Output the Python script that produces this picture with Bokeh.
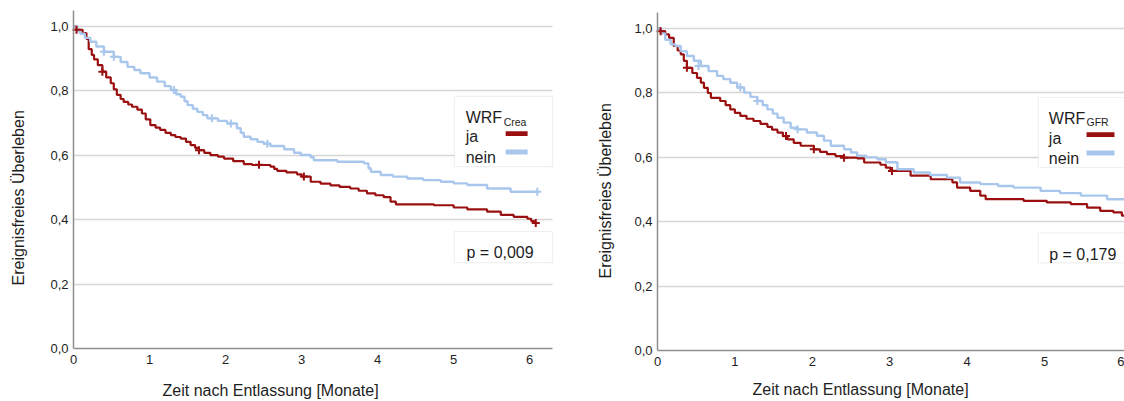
import math
from bokeh.plotting import figure
from bokeh.layouts import row
from bokeh.models import (Range1d, FixedTicker, CustomJSTickFormatter,
                          BoxAnnotation, Label)
from bokeh.embed import file_html
from bokeh.resources import INLINE

# ---------------- data ----------------
x_ticks = [0, 1, 2, 3, 4, 5, 6]
y_ticks = [0.0, 0.2, 0.4, 0.6, 0.8, 1.0]
x_title = "Zeit nach Entlassung [Monate]"
y_title = "Ereignisfreies Überleben"
groups = ["ja", "nein"]

# Panel 1: WRF Crea
crea_ja_t = [0.00, 0.04, 0.12, 0.17, 0.20, 0.24, 0.27, 0.32, 0.38, 0.43, 0.49, 0.53,
             0.57, 0.62, 0.66, 0.72, 0.77, 0.84, 0.90, 0.95, 1.01, 1.08, 1.14, 1.21,
             1.28, 1.34, 1.41, 1.48, 1.54, 1.60, 1.65, 1.72, 1.80, 1.90, 1.98, 2.10,
             2.24, 2.35, 2.59, 2.64, 2.68, 2.80, 2.94, 3.00, 3.12, 3.25, 3.38, 3.50,
             3.64, 3.75, 3.86, 3.97, 4.08, 4.17, 4.24, 4.74, 5.00, 5.18, 5.44, 5.62,
             5.79, 5.97, 6.02, 6.06, 6.08]
crea_ja_s = [1.000, 0.990, 0.980, 0.962, 0.930, 0.912, 0.898, 0.880, 0.860, 0.842, 0.824, 0.805,
             0.788, 0.775, 0.766, 0.758, 0.751, 0.742, 0.730, 0.712, 0.694, 0.686, 0.679, 0.670,
             0.663, 0.657, 0.652, 0.642, 0.632, 0.623, 0.616, 0.608, 0.601, 0.596, 0.590, 0.582,
             0.573, 0.570, 0.565, 0.558, 0.552, 0.547, 0.541, 0.534, 0.518, 0.512, 0.507, 0.502,
             0.497, 0.490, 0.482, 0.476, 0.470, 0.456, 0.448, 0.445, 0.438, 0.432, 0.425, 0.415,
             0.409, 0.403, 0.396, 0.390, 0.390]
crea_nein_t = [0.00, 0.05, 0.09, 0.15, 0.22, 0.30, 0.40, 0.53, 0.62, 0.71, 0.80, 0.88,
               1.00, 1.10, 1.20, 1.28, 1.35, 1.41, 1.46, 1.50, 1.57, 1.63, 1.70, 1.76,
               1.90, 2.02, 2.15, 2.20, 2.24, 2.33, 2.42, 2.50, 2.59, 2.77, 2.90, 2.99,
               3.12, 3.16, 3.47, 3.82, 3.88, 3.91, 4.04, 4.20, 4.39, 4.60, 4.83, 5.00,
               5.18, 5.44, 5.75, 6.10]
crea_nein_s = [1.000, 0.985, 0.978, 0.965, 0.953, 0.938, 0.922, 0.906, 0.890, 0.875, 0.865, 0.855,
               0.842, 0.829, 0.815, 0.803, 0.790, 0.782, 0.768, 0.756, 0.745, 0.735, 0.725, 0.715,
               0.707, 0.699, 0.684, 0.670, 0.658, 0.650, 0.642, 0.636, 0.629, 0.619, 0.608, 0.601,
               0.594, 0.585, 0.580, 0.575, 0.560, 0.549, 0.539, 0.534, 0.528, 0.523, 0.518, 0.513,
               0.508, 0.497, 0.487, 0.487]
crea_ja_cens_t = [0.04, 0.38, 1.65, 2.44, 3.03, 6.08]
crea_ja_cens_s = [0.990, 0.860, 0.616, 0.571, 0.534, 0.390]
crea_nein_cens_t = [0.40, 0.53, 1.32, 1.82, 2.07, 2.55, 6.10]
crea_nein_cens_s = [0.922, 0.906, 0.803, 0.715, 0.699, 0.636, 0.487]
crea_p = "p = 0,009"

# Panel 2: WRF GFR
gfr_ja_t = [0.00, 0.04, 0.10, 0.15, 0.21, 0.26, 0.30, 0.34, 0.38, 0.45, 0.51, 0.56,
            0.60, 0.65, 0.69, 0.81, 0.88, 0.94, 1.00, 1.07, 1.15, 1.24, 1.33, 1.42,
            1.48, 1.55, 1.62, 1.68, 1.76, 1.85, 2.02, 2.10, 2.19, 2.30, 2.41, 2.58,
            2.67, 2.88, 2.95, 3.01, 3.27, 3.53, 3.81, 3.87, 4.04, 4.17, 4.24, 4.73,
            5.03, 5.34, 5.55, 5.72, 5.89, 6.00, 6.10]
gfr_ja_s = [1.000, 0.992, 0.982, 0.971, 0.946, 0.932, 0.920, 0.900, 0.878, 0.862, 0.847, 0.832,
            0.816, 0.800, 0.785, 0.775, 0.762, 0.749, 0.738, 0.729, 0.720, 0.713, 0.704, 0.695,
            0.686, 0.677, 0.666, 0.656, 0.645, 0.636, 0.625, 0.617, 0.610, 0.604, 0.599, 0.597,
            0.584, 0.577, 0.568, 0.558, 0.543, 0.532, 0.522, 0.506, 0.496, 0.481, 0.470, 0.465,
            0.460, 0.455, 0.444, 0.434, 0.429, 0.419, 0.419]
gfr_nein_t = [0.00, 0.05, 0.10, 0.17, 0.23, 0.30, 0.38, 0.47, 0.56, 0.66, 0.77, 0.85,
              0.94, 1.03, 1.12, 1.20, 1.29, 1.36, 1.42, 1.49, 1.55, 1.63, 1.72, 1.81,
              1.93, 2.06, 2.15, 2.24, 2.41, 2.50, 2.58, 2.70, 2.84, 2.95, 3.10, 3.31,
              3.52, 3.74, 3.91, 4.17, 4.40, 4.60, 4.95, 5.20, 5.47, 5.81, 6.10]
gfr_nein_s = [1.000, 0.985, 0.965, 0.951, 0.946, 0.930, 0.915, 0.900, 0.884, 0.868, 0.853, 0.843,
              0.832, 0.817, 0.801, 0.788, 0.775, 0.762, 0.749, 0.736, 0.723, 0.708, 0.692, 0.687,
              0.677, 0.667, 0.652, 0.636, 0.625, 0.615, 0.605, 0.600, 0.594, 0.585, 0.563, 0.553,
              0.545, 0.537, 0.522, 0.517, 0.511, 0.506, 0.496, 0.489, 0.481, 0.470, 0.470]
gfr_ja_cens_t = [0.04, 0.38, 1.66, 2.02, 2.41, 3.03]
gfr_ja_cens_s = [0.992, 0.878, 0.666, 0.625, 0.599, 0.558]
gfr_nein_cens_t = [0.53, 1.07, 1.29, 1.81]
gfr_nein_cens_s = [0.884, 0.817, 0.775, 0.687]
gfr_p = "p = 0,179"

# ---------------- styling ----------------
FONT = "Liberation Sans"
RED = "#9a1010"
BLUE = "#a9c7ec"
TXT = "#1e1e1e"
AXIS = "#8e8e8e"
GRID = "#d6d6d6"
H = 401
Y_TOP = 1.05


def panel(width, x0_px, top_px, zero_px, px_per_month, x_end,
          ja_t, ja_s, nein_t, nein_s, ja_ct, ja_cs, nein_ct, nein_cs,
          sub, ptext, lay):
    # the frame fills the whole canvas; axes are pinned at 0 so titles can sit freely
    px_per_unit = (zero_px - top_px) / Y_TOP
    xr = Range1d(-x0_px / px_per_month, (width - x0_px) / px_per_month)
    yr = Range1d(-(H - zero_px) / px_per_unit, Y_TOP + top_px / px_per_unit)
    p = figure(width=width, height=H, x_range=xr, y_range=yr,
               output_backend="svg", toolbar_location=None,
               min_border_left=0, min_border_right=0,
               min_border_top=0, min_border_bottom=0)
    p.outline_line_color = None
    p.background_fill_color = "white"
    p.border_fill_color = "white"
    p.xgrid.visible = False

    grid = p.ygrid[0]
    grid_ticks = y_ticks[1:]
    if "cross_bounds" in grid.properties():
        grid.ticker = FixedTicker(ticks=grid_ticks)
        grid.grid_line_color = GRID
        grid.grid_line_width = 1.5
        grid.cross_bounds = (0, x_end)
    else:
        grid.visible = False
        p.segment(x0=[0] * len(grid_ticks), x1=[x_end] * len(grid_ticks),
                  y0=grid_ticks, y1=grid_ticks, line_color=GRID, line_width=1.5)

    p.xaxis.ticker = FixedTicker(ticks=x_ticks)
    p.yaxis.ticker = FixedTicker(ticks=y_ticks)
    p.yaxis.formatter = CustomJSTickFormatter(code="return tick.toFixed(1).replace('.', ',');")
    p.xaxis.fixed_location = 0
    p.yaxis.fixed_location = 0
    p.xaxis.bounds = (0, x_end)
    p.yaxis.bounds = (0, Y_TOP)
    for ax in (p.xaxis[0], p.yaxis[0]):
        ax.axis_line_color = AXIS
        ax.axis_line_width = 1.5
        ax.major_tick_line_color = None
        ax.minor_tick_line_color = None
        ax.major_tick_out = 0
        ax.major_tick_in = 0
        ax.minor_tick_out = 0
        ax.major_label_text_font = FONT
        ax.major_label_text_font_size = "13px"
        ax.major_label_text_color = TXT
    p.xaxis.major_label_standoff = 6
    p.yaxis.major_label_standoff = 5

    # curves
    p.step(x=ja_t, y=ja_s, mode="after", line_color=RED, line_width=2.2)
    p.step(x=nein_t, y=nein_s, mode="after", line_color=BLUE, line_width=2.4)
    p.scatter(x=nein_ct, y=nein_cs, marker="cross", size=8, line_color=BLUE, line_width=2)
    p.scatter(x=ja_ct, y=ja_cs, marker="cross", size=8, line_color=RED, line_width=2)

    # legend box
    L = lay
    p.add_layout(BoxAnnotation(left=L["bl"], right=L["br"], top=L["lt"], bottom=L["lb"],
                               fill_color="white", fill_alpha=1.0,
                               line_color="#cccccc", line_width=1.2))
    common = dict(text_font=FONT, text_color=TXT, text_baseline="alphabetic", text_align="left")
    p.add_layout(Label(x=L["tx"], y=L["wrf_y"], text="WRF", text_font_size="16px", **common))
    p.add_layout(Label(x=L["sub_x"], y=L["sub_y"], text=sub, text_font_size="10.5px", **common))
    p.add_layout(Label(x=L["tx"], y=L["ja_y"], text=groups[0], text_font_size="16px", **common))
    p.add_layout(Label(x=L["tx"], y=L["nein_y"], text=groups[1], text_font_size="16px", **common))
    p.add_layout(BoxAnnotation(left=L["sw_l"], right=L["sw_r"], top=L["red_t"], bottom=L["red_b"],
                               fill_color=RED, fill_alpha=1.0, line_color=None))
    p.add_layout(BoxAnnotation(left=L["sw_l"], right=L["sw_r"], top=L["blue_t"], bottom=L["blue_b"],
                               fill_color=BLUE, fill_alpha=1.0, line_color=None))
    # p-value box
    p.add_layout(BoxAnnotation(left=L["bl"], right=L["br"], top=L["pt"], bottom=L["pb"],
                               fill_color="white", fill_alpha=1.0,
                               line_color="#cccccc", line_width=1.2))
    p.add_layout(Label(x=L["ptx"], y=L["pty"], text=ptext, text_font_size="16px", **common))

    # axis titles
    p.add_layout(Label(x=L["xt_x"], y=L["xt_y"], text=x_title, text_font=FONT,
                       text_font_size="16px", text_color=TXT,
                       text_baseline="middle", text_align="left"))
    p.add_layout(Label(x=L["yt_x"], y=L["yt_y"], text=y_title, text_font=FONT,
                       text_font_size="16px", text_color=TXT, angle=math.pi / 2,
                       text_baseline="middle", text_align="left"))
    return p


lay1 = dict(bl=5.011, br=6.30, lt=0.783, lb=0.565,
            tx=5.158, wrf_y=0.717, sub_x=5.658, sub_y=0.705,
            ja_y=0.658, nein_y=0.594,
            sw_l=5.684, sw_r=5.973, red_t=0.675, red_b=0.660, blue_t=0.618, blue_b=0.603,
            pt=0.3635, pb=0.267, ptx=5.169, pty=0.297,
            xt_x=1.171, xt_y=-0.1305, yt_x=-0.723, yt_y=0.196)
lay2 = dict(bl=4.920, br=6.30, lt=0.786, lb=0.5685,
            tx=5.056, wrf_y=0.7214, sub_x=5.543, sub_y=0.709,
            ja_y=0.6596, nein_y=0.5974,
            sw_l=5.543, sw_r=5.904, red_t=0.678, red_b=0.663, blue_t=0.621, blue_b=0.606,
            pt=0.3656, pb=0.2724, ptx=5.061, pty=0.2982,
            xt_x=1.227, xt_y=-0.1212, yt_x=-0.672, yt_y=0.224)

p1 = panel(575, 73, 10, 348, 76.03, 6.3,
           crea_ja_t, crea_ja_s, crea_nein_t, crea_nein_s,
           crea_ja_cens_t, crea_ja_cens_s, crea_nein_cens_t, crea_nein_cens_s,
           "Crea", crea_p, lay1)
p2 = panel(549, 82, 12, 350, 77.4, 6.2,
           gfr_ja_t, gfr_ja_s, gfr_nein_t, gfr_nein_s,
           gfr_ja_cens_t, gfr_ja_cens_s, gfr_nein_cens_t, gfr_nein_cens_s,
           "GFR", gfr_p, lay2)

layout = row(p1, p2)
open("out.html", "w").write(file_html(layout, INLINE, "Kaplan-Meier"))
